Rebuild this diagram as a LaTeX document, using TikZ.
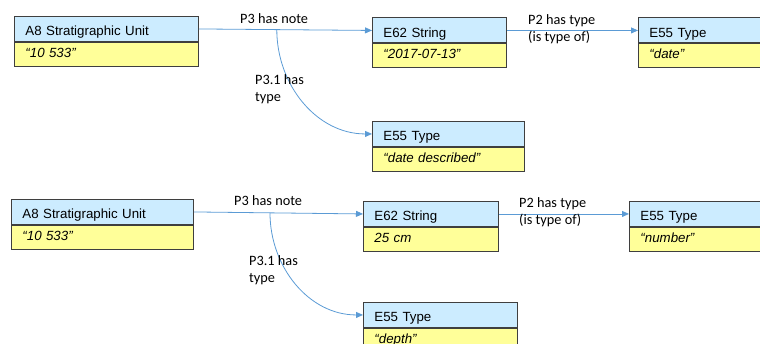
\documentclass[tikz,border=0pt]{standalone}
\usepackage{fontspec}
\setmainfont{Liberation Sans}
\newfontfamily\labelfont{Carlito}
\usetikzlibrary{arrows.meta}
\definecolor{hdrblue}{HTML}{CCECFF}
\definecolor{valyellow}{HTML}{FFFF99}
\definecolor{boxline}{HTML}{3F3F3F}
\definecolor{linkblue}{HTML}{5B9BD5}
\begin{document}
\begin{tikzpicture}[x=1pt,y=-1pt,
  cell/.style={draw=boxline, line width=0.9pt, rectangle, anchor=north west,
    inner xsep=11pt, inner ysep=0pt, align=left},
  hdr/.style={cell, fill=hdrblue, minimum height=25pt, text height=14pt,
    text depth=0.4pt, font=\fontsize{13.3}{16}\selectfont},
  val/.style={cell, fill=valyellow, minimum height=24pt, text height=8.4pt,
    text depth=2.8pt, font=\fontsize{13.3}{16}\selectfont\itshape},
  link/.style={draw=linkblue, line width=0.8pt, -{Triangle[length=7pt,width=6pt]}},
  lbl/.style={anchor=base west, inner sep=0pt, align=left,
    font=\labelfont\fontsize{14.3}{17.2}\selectfont}
]
\useasboundingbox (0,0) rectangle (760,344);
\clip (0,0) rectangle (760,344);

% ---- first statement: date note ----
\node[hdr, text width=162pt] (a1h) at (14,16) {A8 Stratigraphic Unit};
\node[val, text width=162pt] (a1v) at (a1h.south west) {“10 533”};
\node[hdr, text width=112pt] (s1h) at (372,17.5) {E62 String};
\node[val, text width=112pt] (s1v) at (s1h.south west) {“2017-07-13”};
\node[hdr, text width=150pt] (t1h) at (638,17.5) {E55 Type};
\node[val, text width=150pt] (t1v) at (t1h.south west) {“date”};
\node[hdr, text width=130pt] (d1h) at (372,121) {E55 Type};
\node[val, text width=130pt] (d1v) at (d1h.south west) {“date described”};

\path (a1h.east) -- (s1h.west) coordinate[pos=0.45] (j1);
\draw[link] (a1h.east) -- (s1h.west);
\draw[link] (s1h.east) -- (t1h.west);
\draw[link] (j1) to[out=-90,in=180] (d1h.west);

% multi-line labels are placed by the baseline of their last line
\node[lbl] (n1) at (240,23.5) {P3 has note};
\node[lbl] (q1) at (255,101.7) {P3.1 has\\type};
\node[lbl] (p1) at (528,41.7) {P2 has type\\(is type of)};

% ---- second statement: measurement note ----
\node[hdr, text width=160pt] (a2h) at (11,199) {A8 Stratigraphic Unit};
\node[val, text width=160pt] (a2v) at (a2h.south west) {“10 533”};
\node[hdr, text width=113pt] (s2h) at (363,201) {E62 String};
\node[val, text width=113pt] (s2v) at (s2h.south west) {25 cm};
\node[hdr, text width=150pt] (t2h) at (629,201) {E55 Type};
\node[val, text width=150pt] (t2v) at (t2h.south west) {“number”};
\node[hdr, text width=132pt] (d2h) at (363,302) {E55 Type};
\node[val, text width=132pt] (d2v) at (d2h.south west) {“depth”};

\path (a2h.east) -- (s2h.west) coordinate[pos=0.45] (j2);
\draw[link] (a2h.east) -- (s2h.west);
\draw[link] (s2h.east) -- (t2h.west);
\draw[link] (j2) to[out=-90,in=180] (d2h.west);

\node[lbl] (n2) at (234,206) {P3 has note};
\node[lbl] (q2) at (249,283) {P3.1 has\\type};
\node[lbl] (p2) at (519,224.5) {P2 has type\\(is type of)};
\end{tikzpicture}
\end{document}
